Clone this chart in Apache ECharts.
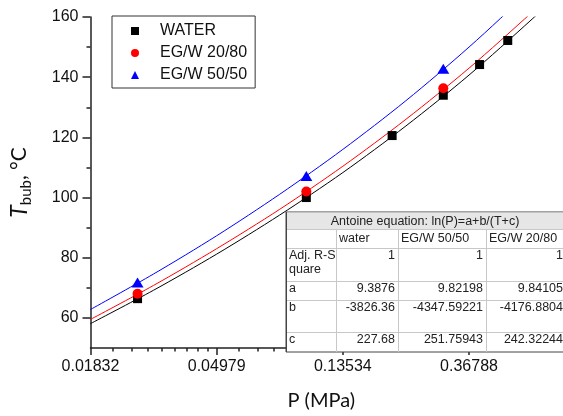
<!DOCTYPE html>
<html>
<head>
<meta charset="utf-8">
<script src="https://cdn.jsdelivr.net/npm/echarts@6/dist/echarts.min.js"></script>
<style>
  html, body { margin: 0; padding: 0; background: #fff; }
  #chart { width: 563px; height: 416px; }
</style>
</head>
<body>
<div id="chart"></div>
<script>
// measured points
var waterP = [0.0266, 0.101325, 0.2, 0.3, 0.4, 0.5];
var waterT = [66.4, 100.0, 120.6, 134.0, 144.2, 152.2];
var eg20P = [0.0266, 0.101325, 0.3];
var eg20T = [68.0, 102.0, 136.3];
var eg50P = [0.0266, 0.101325, 0.3];
var eg50T = [71.8, 107.2, 142.8];

// fitted curves
var fitP = [0.01832, 0.03020, 0.04979, 0.08208, 0.13534, 0.22313, 0.36788, 0.60653, 0.7];
var waterFitT = [58.1, 69.2, 81.2, 94.2, 108.3, 123.8, 140.7, 159.3, 165.0];
var eg20FitT = [59.5, 70.8, 83.0, 96.1, 110.4, 126.0, 143.0, 161.6, 167.3];
var eg50FitT = [62.8, 74.6, 87.3, 101.1, 116.0, 132.2, 150.0, 169.4, 175.4];

// axes
var xMajor = [0.01832, 0.04979, 0.13534, 0.36788];
var xLabels = ['0.01832', '0.04979', '0.13534', '0.36788'];
var yMajor = [60, 80, 100, 120, 140, 160];
var yMinor = [70, 90, 110, 130, 150];

// table
var tableTitle = 'Antoine equation: ln(P)=a+b/(T+c)';
var tableCols = ['', 'water', 'EG/W 50/50', 'EG/W 20/80'];
var tableRows = [
    [['Adj. R-S', 'quare'], '1', '1', '1'],
    [['a'], '9.3876', '9.82198', '9.84105'],
    [['b'], '-3826.36', '-4347.59221', '-4176.8804'],
    [['c'], '227.68', '251.75943', '242.32244']
];

function pairs(xs, ys) {
    return xs.map(function (x, i) { return [x, ys[i]]; });
}

// minor x ticks: 9 linear steps between the major ticks
var xMinor = [];
var xEdges = xMajor.concat([1]);
for (var i = 0; i < xEdges.length - 1; i++) {
    var step = (xEdges[i + 1] - xEdges[i]) / 9;
    for (var k = 1; k < 9; k++) {
        var v = xEdges[i] + k * step;
        if (v < 0.71) xMinor.push(v);
    }
}

// table drawing
var colX = [286, 336, 398, 486, 566];
var rowY = [212, 229, 248, 281, 300, 332, 352];
var tFont = '12.5px "Liberation Sans", Arial, sans-serif';
var gridColor = '#c8c8c8';
var els = [];
els.push({ type: 'rect', z: 100, shape: { x: colX[0], y: rowY[0], width: colX[4] - colX[0], height: rowY[6] - rowY[0] },
    style: { fill: '#fff', stroke: '#444', lineWidth: 1 } });
els.push({ type: 'rect', z: 101, shape: { x: colX[0] + 0.5, y: rowY[0] + 0.5, width: colX[4] - colX[0], height: rowY[1] - rowY[0] },
    style: { fill: '#e6e6e6' } });
for (var r = 1; r < rowY.length - 1; r++) {
    els.push({ type: 'line', z: 102, shape: { x1: colX[0], y1: rowY[r] + 0.5, x2: colX[4], y2: rowY[r] + 0.5 },
        style: { stroke: gridColor, lineWidth: 1 } });
}
for (var c = 1; c < colX.length - 1; c++) {
    els.push({ type: 'line', z: 102, shape: { x1: colX[c] + 0.5, y1: rowY[1], x2: colX[c] + 0.5, y2: rowY[6] },
        style: { stroke: gridColor, lineWidth: 1 } });
}
els.push({ type: 'line', z: 103, shape: { x1: colX[0] + 0.5, y1: rowY[0], x2: colX[0] + 0.5, y2: rowY[6] },
    style: { stroke: '#444', lineWidth: 1 } });
els.push({ type: 'text', z: 104, x: (colX[0] + colX[4]) / 2 - 1, y: (rowY[0] + rowY[1]) / 2 + 1,
    style: { text: tableTitle, font: tFont, fill: '#222', align: 'center', verticalAlign: 'middle' } });
tableCols.forEach(function (name, ci) {
    if (!name) return;
    els.push({ type: 'text', z: 104, x: colX[ci] + 3, y: rowY[1] + 10,
        style: { text: name, font: tFont, fill: '#222', align: 'left', verticalAlign: 'middle' } });
});
tableRows.forEach(function (row, ri) {
    var top = rowY[ri + 2];
    row[0].forEach(function (line, li) {
        els.push({ type: 'text', z: 104, x: colX[0] + 3, y: top + 8 + li * 13.5,
            style: { text: line, font: tFont, fill: '#222', align: 'left', verticalAlign: 'middle' } });
    });
    for (var ci = 1; ci < row.length; ci++) {
        els.push({ type: 'text', z: 104, x: colX[ci + 1] - 3, y: top + 8,
            style: { text: row[ci], font: tFont, fill: '#222', align: 'right', verticalAlign: 'middle' } });
    }
});

var chartDom = document.getElementById('chart');
var myChart = echarts.init(chartDom);
var axisColor = '#222';
var font = '"Liberation Sans", Arial, sans-serif';

var option = {
    animation: false,
    grid: { left: 90, right: 11, top: 17, bottom: 63, containLabel: false },
    legend: {
        orient: 'vertical',
        left: 112,
        top: 16,
        data: ['WATER', 'EG/W 20/80', 'EG/W 50/50'],
        backgroundColor: '#fff',
        borderColor: '#333',
        borderWidth: 1,
        borderRadius: 0,
        padding: [7, 8, 5, 19],
        itemGap: 6,
        itemWidth: 8,
        itemHeight: 8,
        itemStyle: { opacity: 1 },
        textStyle: { fontFamily: font, fontSize: 16, color: '#111', lineHeight: 14, padding: [0, 0, 0, 16] }
    },
    xAxis: [
        {
            type: 'log',
            logBase: Math.E,
            min: 0.01832,
            max: 0.71,
            name: 'P (MPa)',
            nameLocation: 'middle',
            nameGap: 43,
            nameTextStyle: { fontFamily: 'Lato', fontSize: 20, color: '#111' },
            axisLine: { lineStyle: { color: axisColor, width: 1.5 } },
            axisTick: { customValues: xMajor, length: 7, lineStyle: { color: axisColor, width: 1.5 } },
            axisLabel: {
                customValues: xMajor, margin: 11, fontFamily: font, fontSize: 16, color: '#111',
                formatter: function (v) {
                    var idx = xMajor.findIndex(function (m) { return Math.abs(m - v) < 1e-6; });
                    return idx >= 0 ? xLabels[idx] : '';
                }
            },
            splitLine: { show: false },
            minorTick: { show: false }
        },
        {
            type: 'log',
            logBase: Math.E,
            min: 0.01832,
            max: 0.71,
            position: 'bottom',
            axisLine: { show: false },
            axisTick: { customValues: xMinor, length: 3.5, lineStyle: { color: axisColor, width: 1.5 } },
            axisLabel: { show: false },
            splitLine: { show: false }
        }
    ],
    yAxis: [
        {
            type: 'value',
            min: 50,
            max: 160,
            interval: 10,
            name: '{it|T}{sub|bub}{n|, °C}',
            nameLocation: 'middle',
            nameGap: 57,
            nameTextStyle: {
                fontFamily: 'Lato', color: '#111',
                rich: {
                    it: { fontFamily: 'Lato', fontStyle: 'italic', fontSize: 23, lineHeight: 28, verticalAlign: 'middle', color: '#111' },
                    sub: { fontFamily: 'Lato', fontSize: 15, lineHeight: 28, verticalAlign: 'bottom', color: '#111' },
                    n: { fontFamily: 'Lato', fontSize: 21, lineHeight: 28, verticalAlign: 'middle', color: '#111' }
                }
            },
            axisLine: { show: true, lineStyle: { color: axisColor, width: 1.5 } },
            axisTick: { show: true, customValues: yMajor, length: 8, lineStyle: { color: axisColor, width: 1.5 } },
            axisLabel: { customValues: yMajor, margin: 12, fontFamily: font, fontSize: 16, color: '#111' },
            splitLine: { show: false }
        },
        {
            type: 'value',
            min: 50,
            max: 160,
            interval: 10,
            position: 'left',
            axisLine: { show: false },
            axisTick: { show: true, customValues: yMinor, length: 4, lineStyle: { color: axisColor, width: 1.5 } },
            axisLabel: { show: false },
            splitLine: { show: false }
        }
    ],
    series: [
        { name: 'WATER fit', type: 'line', data: pairs(fitP, waterFitT), smooth: 0.3, showSymbol: false, silent: true,
          lineStyle: { color: '#000', width: 1 }, z: 2 },
        { name: 'EG/W 20/80 fit', type: 'line', data: pairs(fitP, eg20FitT), smooth: 0.3, showSymbol: false, silent: true,
          lineStyle: { color: '#ff0000', width: 1 }, z: 2 },
        { name: 'EG/W 50/50 fit', type: 'line', data: pairs(fitP, eg50FitT), smooth: 0.3, showSymbol: false, silent: true,
          lineStyle: { color: '#0000ff', width: 1 }, z: 2 },
        { name: 'WATER', type: 'scatter', data: pairs(waterP, waterT), symbol: 'rect', symbolSize: 9,
          itemStyle: { color: '#000', opacity: 1 }, z: 5 },
        { name: 'EG/W 20/80', type: 'scatter', data: pairs(eg20P, eg20T), symbol: 'circle', symbolSize: 10,
          itemStyle: { color: '#ff0000', opacity: 1 }, z: 5 },
        { name: 'EG/W 50/50', type: 'scatter', data: pairs(eg50P, eg50T), symbol: 'triangle', symbolSize: [12, 10],
          itemStyle: { color: '#0000ff', opacity: 1 }, z: 5 }
    ],
    graphic: { elements: els }
};

myChart.setOption(option);
</script>
</body>
</html>
